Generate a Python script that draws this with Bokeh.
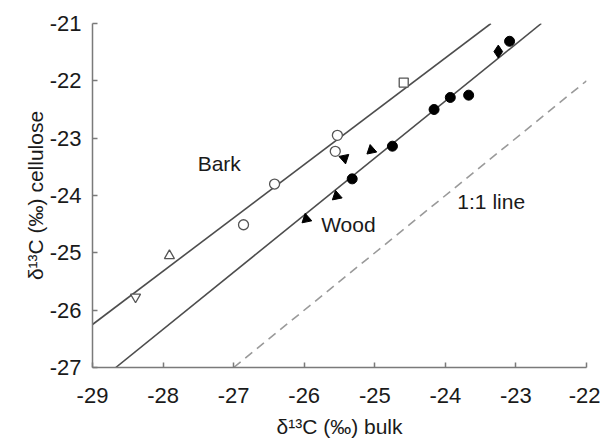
from bokeh.plotting import figure
from bokeh.models import Range1d, FixedTicker, Label
from bokeh.embed import file_html
from bokeh.resources import INLINE

# ---- data ----
# Bark (open symbols)
bark_circle_x = [-26.86, -26.42, -25.56, -25.53]
bark_circle_y = [-24.51, -23.80, -23.23, -22.95]
bark_tri_x = [-27.91]
bark_tri_y = [-25.05]
bark_invtri_x = [-28.39]
bark_invtri_y = [-25.77]
bark_square_x = [-24.59]
bark_square_y = [-22.03]

# Wood (filled symbols)
wood_circle_x = [-25.32, -24.75, -24.16, -23.93, -23.67, -23.09]
wood_circle_y = [-23.71, -23.14, -22.50, -22.29, -22.25, -21.31]
wood_tri_x = [-25.97, -25.54, -25.05]
wood_tri_y = [-24.41, -24.01, -23.21]
wood_invtri_x = [-25.43]
wood_invtri_y = [-23.35]
wood_diamond_x = [-23.25]
wood_diamond_y = [-21.49]

# regression fits (intercept, slope)
bark_fit = (0.72, 0.93)
wood_fit = (1.527, 0.995)
one_to_one = (0.0, 1.0)

x_ticks = [-29, -28, -27, -26, -25, -24, -23, -22]
y_ticks = [-27, -26, -25, -24, -23, -22, -21]
x_lo, x_hi = -29, -22
y_lo, y_hi = -27, -21

FONT = "Liberation Sans"
TXT = "#1a1a1a"

p = figure(width=600, height=441, output_backend="svg", toolbar_location=None,
           x_range=Range1d(x_lo, x_hi), y_range=Range1d(y_lo, y_hi),
           min_border_left=92, min_border_right=14, min_border_top=23,
           min_border_bottom=74)
p.outline_line_color = None
p.xgrid.visible = False
p.ygrid.visible = False
p.background_fill_color = "white"
p.border_fill_color = "white"

for ax, ticks in ((p.xaxis, x_ticks), (p.yaxis, y_ticks)):
    ax.ticker = FixedTicker(ticks=ticks)
    ax.major_label_overrides = {t: str(t) for t in ticks}
    ax.minor_tick_line_color = None
    ax.major_tick_in = 5
    ax.major_tick_out = 0
    ax.axis_line_color = "#7a7a7a"
    ax.axis_line_width = 1.5
    ax.major_tick_line_color = "#7a7a7a"
    ax.major_tick_line_width = 1.5
    ax.major_label_text_font = FONT
    ax.major_label_text_font_size = "22px"
    ax.major_label_text_color = TXT
    ax.axis_label_text_font = FONT
    ax.axis_label_text_font_size = "21px"
    ax.axis_label_text_font_style = "normal"
    ax.axis_label_text_color = TXT

p.xaxis.major_label_standoff = 20
p.yaxis.major_label_standoff = 11
p.xaxis.axis_label = "δ¹³C (‰) bulk"
p.yaxis.axis_label = "δ¹³C (‰) cellulose"
p.xaxis.axis_label_standoff = 9
p.yaxis.axis_label_standoff = 0


def seg(fit):
    a, b = fit
    xs = max(x_lo, (y_lo - a) / b)
    xe = min(x_hi, (y_hi - a) / b)
    return [xs, xe], [a + b * xs, a + b * xe]


bx, by = seg(bark_fit)
p.line(bx, by, line_color="#4d4d4d", line_width=1.6)
wx, wy = seg(wood_fit)
p.line(wx, wy, line_color="#4d4d4d", line_width=1.6)
ox, oy = seg(one_to_one)
p.line(ox, oy, line_color="#9a9a9a", line_width=1.6, line_dash="9 6")

open_kw = dict(fill_color="white", line_color="#555555", line_width=1.3)
p.scatter(bark_circle_x, bark_circle_y, marker="circle", size=10, **open_kw)
p.scatter(bark_tri_x, bark_tri_y, marker="triangle", size=10, **open_kw)
p.scatter(bark_invtri_x, bark_invtri_y, marker="inverted_triangle", size=10, **open_kw)
p.scatter(bark_square_x, bark_square_y, marker="square", size=9, **open_kw)

fill_kw = dict(fill_color="#000000", line_color="#000000", line_width=1)
p.scatter(wood_circle_x, wood_circle_y, marker="circle", size=10, **fill_kw)
p.scatter(wood_tri_x, wood_tri_y, marker="triangle", size=10,
          angle=0.2, **fill_kw)
p.scatter(wood_invtri_x, wood_invtri_y, marker="inverted_triangle", size=10,
          angle=0.2, **fill_kw)
p.scatter(wood_diamond_x, wood_diamond_y, marker="diamond", size=13, **fill_kw)

for txt, x, y in (("Bark", -27.51, -23.45), ("Wood", -25.76, -24.51),
                  ("1:1 line", -23.83, -24.11)):
    p.add_layout(Label(x=x, y=y, text=txt, text_font=FONT, text_font_size="21px",
                       text_color=TXT, text_baseline="middle", text_align="left"))

open("out.html", "w").write(file_html(p, INLINE))
